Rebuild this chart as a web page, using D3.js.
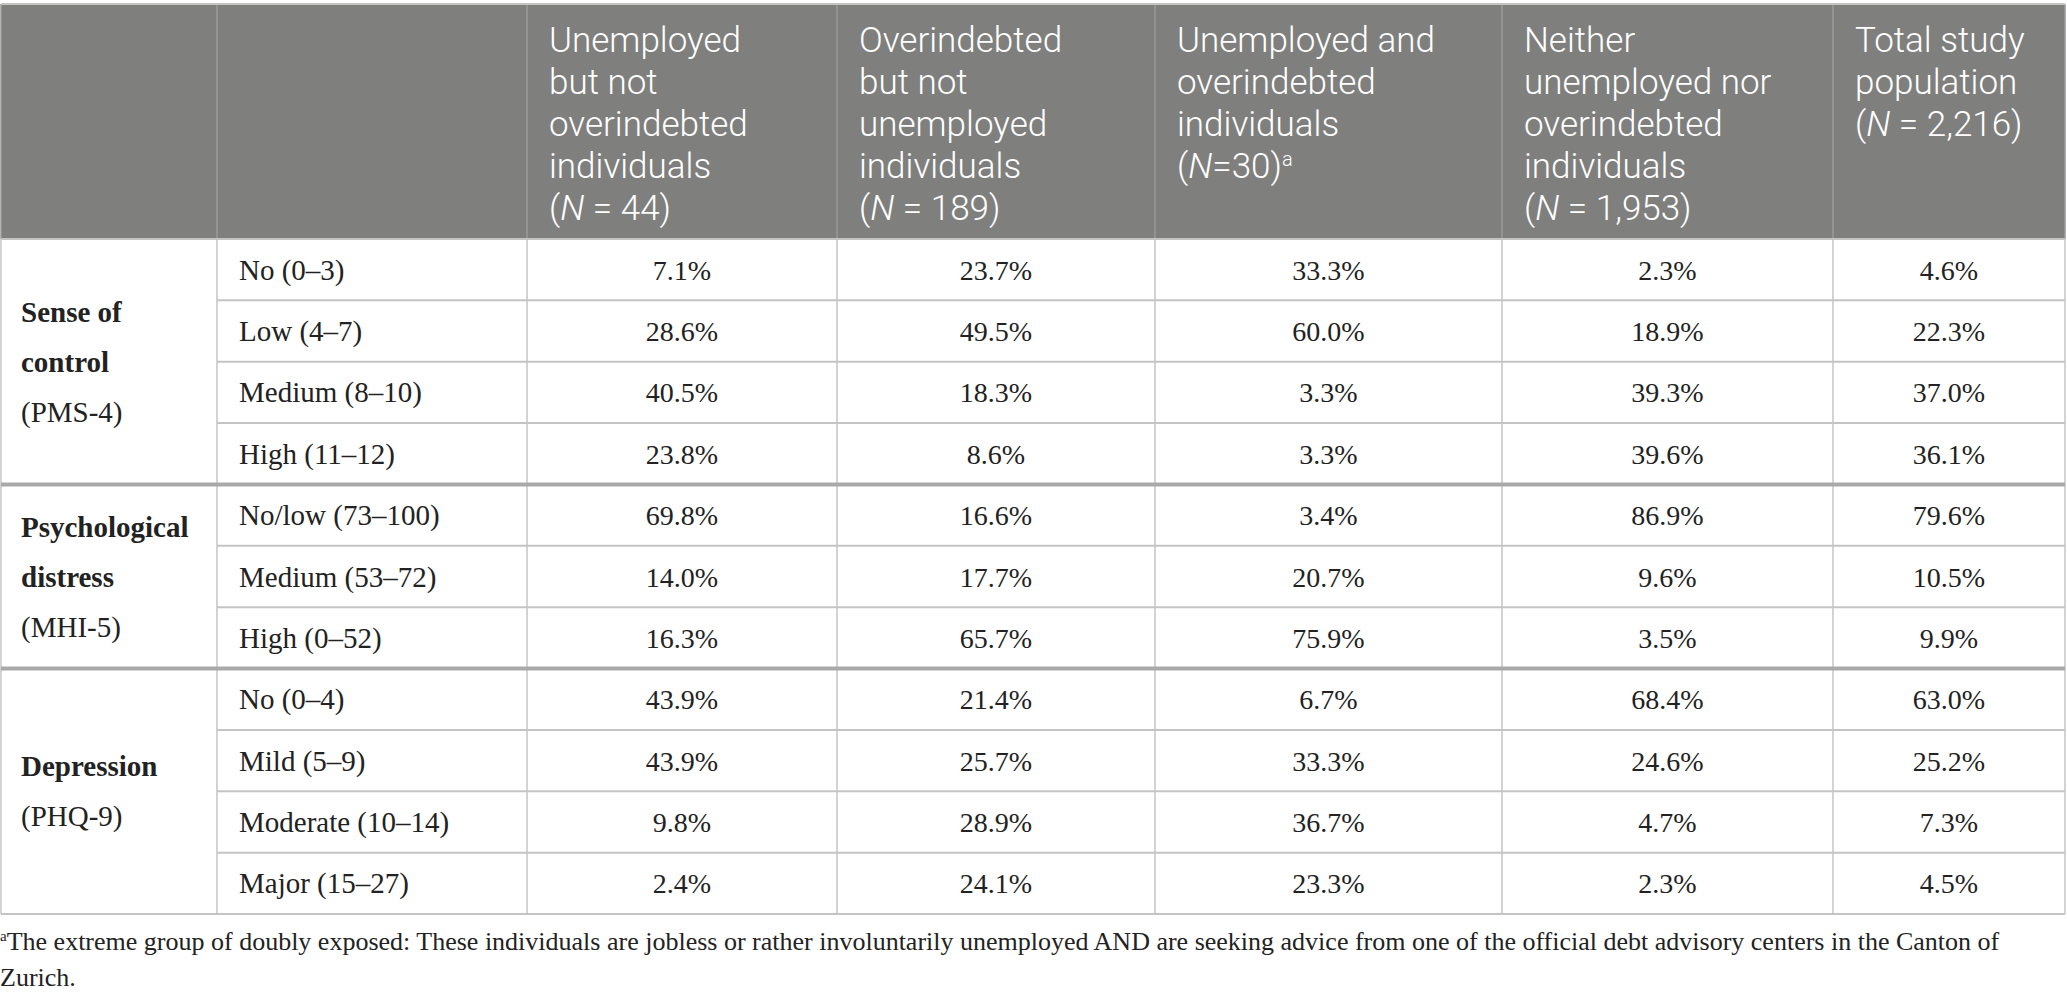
<!DOCTYPE html>
<html>
<head>
<meta charset="utf-8">
<script src="https://cdn.jsdelivr.net/npm/d3@7"></script>
<style>
  body { margin: 0; background: #fff; }
  svg { display: block; }
</style>
</head>
<body>
<div id="table"></div>
<script>
var W = 2067,
    H = 1004;

// header text, one array of lines per column (segments: t = text, i = italic, sup = superscript)
var headers = [
  [],
  [],
  [[{t: 'Unemployed'}], [{t: 'but not'}], [{t: 'overindebted'}], [{t: 'individuals'}],
   [{t: '('}, {t: 'N', i: true}, {t: ' = 44)'}]],
  [[{t: 'Overindebted'}], [{t: 'but not'}], [{t: 'unemployed'}], [{t: 'individuals'}],
   [{t: '('}, {t: 'N', i: true}, {t: ' = 189)'}]],
  [[{t: 'Unemployed and'}], [{t: 'overindebted'}], [{t: 'individuals'}],
   [{t: '('}, {t: 'N', i: true}, {t: '=30)'}, {t: 'a', sup: true}]],
  [[{t: 'Neither'}], [{t: 'unemployed nor'}], [{t: 'overindebted'}], [{t: 'individuals'}],
   [{t: '('}, {t: 'N', i: true}, {t: ' = 1,953)'}]],
  [[{t: 'Total study'}], [{t: 'population'}],
   [{t: '('}, {t: 'N', i: true}, {t: ' = 2,216)'}]]
];

var groupLabels = [
  [{t: 'Sense of', b: true}, {t: 'control', b: true}, {t: '(PMS-4)'}],
  [{t: 'Psychological', b: true}, {t: 'distress', b: true}, {t: '(MHI-5)'}],
  [{t: 'Depression', b: true}, {t: '(PHQ-9)'}]
];
var groupSizes = [4, 3, 4];

var rowLabels = ['No (0\u20133)', 'Low (4\u20137)', 'Medium (8\u201310)', 'High (11\u201312)',
                 'No/low (73\u2013100)', 'Medium (53\u201372)', 'High (0\u201352)',
                 'No (0\u20134)', 'Mild (5\u20139)', 'Moderate (10\u201314)', 'Major (15\u201327)'];

var unemployedOnly   = [7.1, 28.6, 40.5, 23.8, 69.8, 14.0, 16.3, 43.9, 43.9, 9.8, 2.4],
    overindebtedOnly = [23.7, 49.5, 18.3, 8.6, 16.6, 17.7, 65.7, 21.4, 25.7, 28.9, 24.1],
    bothExposed      = [33.3, 60.0, 3.3, 3.3, 3.4, 20.7, 75.9, 6.7, 33.3, 36.7, 23.3],
    neitherExposed   = [2.3, 18.9, 39.3, 39.6, 86.9, 9.6, 3.5, 68.4, 24.6, 4.7, 2.3],
    totalPopulation  = [4.6, 22.3, 37.0, 36.1, 79.6, 10.5, 9.9, 63.0, 25.2, 7.3, 4.5];

var series = [unemployedOnly, overindebtedOnly, bothExposed, neitherExposed, totalPopulation];

var footnote = ['The extreme group of doubly exposed: These individuals are jobless or rather involuntarily unemployed AND are seeking advice from one of the official debt advisory centers in the Canton of',
                'Zurich.'];

// layout
var colEdges = [1, 217, 527, 837, 1155, 1502, 1833, 2065],
    headTop = 4,
    headBottom = 239,
    tableBottom = 914,
    pad = 22,
    headColor = '#7f807e',
    lineColor = '#c4c4c4',
    thickColor = '#a9a9a9',
    sans = 'Roboto, "Noto Sans", sans-serif',
    serif = '"Liberation Serif", "DejaVu Serif", serif';

var y = d3.scaleLinear().domain([0, rowLabels.length]).range([headBottom, tableBottom]);
var fmt = d3.format('.1f');

var svg = d3.select('#table').append('svg')
    .attr('width', W)
    .attr('height', H);

// header background
svg.append('rect')
    .attr('x', colEdges[0]).attr('y', headTop)
    .attr('width', colEdges[colEdges.length - 1] - colEdges[0])
    .attr('height', headBottom - headTop)
    .attr('fill', headColor);

// header text
headers.forEach(function(lines, c) {
  lines.forEach(function(line, k) {
    var t = svg.append('text')
        .attr('x', colEdges[c] + pad)
        .attr('y', 52 + k * 42)
        .attr('fill', '#fff')
        .style('font-family', sans)
        .style('font-weight', 300)
        .style('font-size', '35px');
    line.forEach(function(s) {
      var sp = t.append('tspan').text(s.t);
      if (s.i) sp.style('font-style', 'italic');
      if (s.sup) sp.attr('dy', -12).style('font-size', '20px');
    });
  });
});

// row separators (thin), then group separators (thick)
var groupStarts = [0];
groupSizes.forEach(function(n, i) { groupStarts.push(groupStarts[i] + n); });

d3.range(1, rowLabels.length).forEach(function(i) {
  if (groupStarts.indexOf(i) >= 0) return;
  svg.append('line')
      .attr('x1', colEdges[1]).attr('x2', colEdges[colEdges.length - 1])
      .attr('y1', y(i)).attr('y2', y(i))
      .attr('stroke', lineColor).attr('stroke-width', 2);
});

// vertical lines: a bit darker on the grey header, light in the body
colEdges.forEach(function(x) {
  svg.append('line')
      .attr('x1', x).attr('x2', x)
      .attr('y1', headTop).attr('y2', headBottom)
      .attr('stroke', '#9a9a9a').attr('stroke-width', 1.5);
  svg.append('line')
      .attr('x1', x).attr('x2', x)
      .attr('y1', headBottom).attr('y2', tableBottom)
      .attr('stroke', lineColor).attr('stroke-width', 1.5);
});

// horizontal borders
[headTop, headBottom, tableBottom].forEach(function(yy) {
  svg.append('line')
      .attr('x1', colEdges[0]).attr('x2', colEdges[colEdges.length - 1])
      .attr('y1', yy).attr('y2', yy)
      .attr('stroke', lineColor).attr('stroke-width', 2);
});
groupStarts.slice(1, -1).forEach(function(i) {
  svg.append('line')
      .attr('x1', colEdges[0]).attr('x2', colEdges[colEdges.length - 1])
      .attr('y1', y(i)).attr('y2', y(i))
      .attr('stroke', thickColor).attr('stroke-width', 4);
});

// group labels
groupLabels.forEach(function(lines, g) {
  var mid = (y(groupStarts[g]) + y(groupStarts[g + 1])) / 2,
      first = mid - (lines.length - 1) * 50 / 2;
  lines.forEach(function(l, k) {
    svg.append('text')
        .attr('x', colEdges[0] + 20)
        .attr('y', first + k * 50 + 10)
        .text(l.t)
        .style('font-family', serif)
        .style('font-size', '29px')
        .style('font-weight', l.b ? 'bold' : 'normal')
        .attr('fill', '#222');
  });
});

// row labels
svg.selectAll('text.rowlabel')
    .data(rowLabels)
  .enter().append('text')
    .attr('class', 'rowlabel')
    .attr('x', colEdges[1] + pad)
    .attr('y', function(d, i) { return (y(i) + y(i + 1)) / 2 + 10; })
    .text(function(d) { return d; })
    .style('font-family', serif)
    .style('font-size', '29px')
    .attr('fill', '#222');

// values
series.forEach(function(vals, s) {
  var cx = (colEdges[s + 2] + colEdges[s + 3]) / 2;
  svg.selectAll('text.v' + s)
      .data(vals)
    .enter().append('text')
      .attr('class', 'v' + s)
      .attr('x', cx)
      .attr('y', function(d, i) { return (y(i) + y(i + 1)) / 2 + 10; })
      .attr('text-anchor', 'middle')
      .text(function(d) { return fmt(d) + '%'; })
      .style('font-family', serif)
      .style('font-size', '28px')
      .attr('fill', '#222');
});

// footnote
footnote.forEach(function(l, k) {
  var t = svg.append('text')
      .attr('x', 0)
      .attr('y', 950 + k * 36)
      .style('font-family', serif)
      .style('font-size', '26px')
      .attr('fill', '#222');
  if (k == 0) t.append('tspan').attr('dy', -9).style('font-size', '15px').text('a');
  t.append('tspan').attr('dy', k == 0 ? 9 : 0).text(l);
});
</script>
</body>
</html>
